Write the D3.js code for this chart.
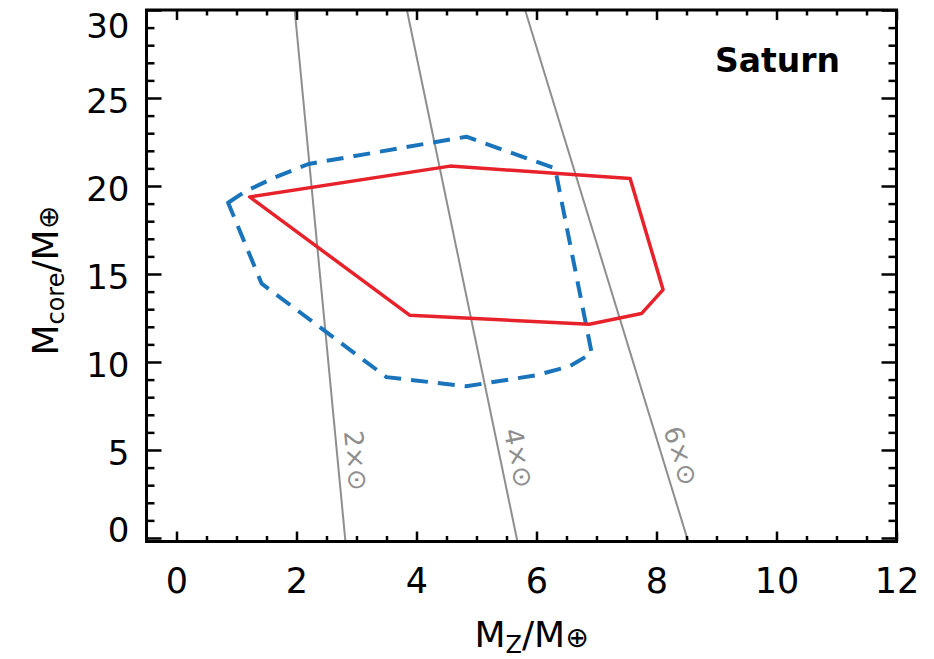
<!DOCTYPE html>
<html>
<head>
<meta charset="utf-8">
<script src="https://cdn.jsdelivr.net/npm/d3@7"></script>
<style>
  body { margin: 0; background: #fff; }
  text { font-family: "DejaVu Sans", sans-serif; }
</style>
</head>
<body>
<div id="chart"></div>
<script>
// axis ticks
var xTicks = [0, 2, 4, 6, 8, 10, 12]
var yTicks = [0, 5, 10, 15, 20, 25, 30]

// red (solid) region
var redX = [1.22, 4.56, 7.56, 8.11, 7.75, 6.88, 3.89]
var redY = [19.38, 21.13, 20.43, 14.11, 12.75, 12.14, 12.65]

// blue (dashed) region
var blueX = [0.86, 1.15, 1.65, 2.2, 4.83, 6.31, 6.92, 6.55, 6.0, 4.83, 3.5, 1.42]
var blueY = [19.05, 19.7, 20.5, 21.25, 22.8, 21.0, 10.5, 9.75, 9.25, 8.62, 9.14, 14.45]

// grey lines of constant enrichment: x at Mcore = 0 and at Mcore = 30
var metalLabels = ["2×⊙", "4×⊙", "6×⊙"]
var metalXAt0 = [2.81, 5.67, 8.51]
var metalXAt30 = [1.97, 3.84, 5.81]
var metalLabelY = 6.0 // where the label starts along each line

var width = 934
var height = 659
// plot frame (window.top etc. are reserved, so prefixed names)
var pLeft = 146.5, pRight = 896.5, pTop = 10, pBottom = 541.5

var x = d3.scaleLinear().domain([-0.5, 12]).range([pLeft, pRight])
var y = d3.scaleLinear().domain([-0.2, 30]).range([pBottom, pTop])

var svg = d3.select("#chart")
  .append("svg")
  .attr("width", width)
  .attr("height", height)

// grey lines
var yMin = y.domain()[0], yMax = y.domain()[1]
metalLabels.forEach(function (lab, i) {
  var slope = (metalXAt30[i] - metalXAt0[i]) / 30
  var xAt = function (v) { return metalXAt0[i] + slope * v }
  var x0 = x(xAt(yMax)), y0 = y(yMax)
  var x1 = x(xAt(yMin)), y1 = y(yMin)
  svg.append("line")
    .attr("x1", x0).attr("y1", y0)
    .attr("x2", x1).attr("y2", y1)
    .attr("stroke", "#8e8e8e")
    .attr("stroke-width", 2)
  var ang = Math.atan2(y1 - y0, x1 - x0) * 180 / Math.PI
  var lx = x(xAt(metalLabelY)), ly = y(metalLabelY)
  svg.append("text")
    .attr("transform", "translate(" + lx + "," + ly + ") rotate(" + ang + ")")
    .attr("dy", -9)
    .attr("fill", "#8e8e8e")
    .style("font-size", "26px")
    .text(lab)
})

var line = d3.line()
  .x(function (d) { return x(d[0]) })
  .y(function (d) { return y(d[1]) })
  .curve(d3.curveLinearClosed)

svg.append("path")
  .attr("d", line(blueX.map(function (v, i) { return [v, blueY[i]] })))
  .attr("fill", "none")
  .attr("stroke", "#1a74bb")
  .attr("stroke-width", 4)
  .attr("stroke-dasharray", "17,10")
  .attr("stroke-linejoin", "round")

svg.append("path")
  .attr("d", line(redX.map(function (v, i) { return [v, redY[i]] })))
  .attr("fill", "none")
  .attr("stroke", "#e8222b")
  .attr("stroke-width", 3.5)
  .attr("stroke-linejoin", "round")

// axes - major and minor ticks on all four sides, pointing in
var xMinor = d3.range(0.5, 12, 0.5).filter(function (v) { return v % 2 != 0 })
var yMinor = d3.range(1, 30, 1).filter(function (v) { return v % 5 != 0 })

function styleAxis(g) {
  g.select(".domain").remove()
  g.selectAll(".tick line").attr("stroke", "#000").attr("stroke-width", 2.5)
}

svg.append("g").attr("transform", "translate(0," + pBottom + ")")
  .call(d3.axisBottom(x).tickValues(xMinor).tickSize(-5.5).tickFormat(""))
  .call(styleAxis)
svg.append("g").attr("transform", "translate(0," + pBottom + ")")
  .call(d3.axisBottom(x).tickValues(xTicks).tickSize(-10).tickPadding(27).tickFormat(d3.format("d")))
  .call(styleAxis)
  .selectAll("text").style("font-size", "35px").attr("fill", "#000")

svg.append("g").attr("transform", "translate(0," + pTop + ")")
  .call(d3.axisTop(x).tickValues(xMinor).tickSize(-5.5).tickFormat(""))
  .call(styleAxis)
svg.append("g").attr("transform", "translate(0," + pTop + ")")
  .call(d3.axisTop(x).tickValues(xTicks).tickSize(-10).tickFormat(""))
  .call(styleAxis)

svg.append("g").attr("transform", "translate(" + pLeft + ",0)")
  .call(d3.axisLeft(y).tickValues(yMinor).tickSize(-8).tickFormat(""))
  .call(styleAxis)
var yAxis = svg.append("g").attr("transform", "translate(" + pLeft + ",0)")
  .call(d3.axisLeft(y).tickValues(yTicks).tickSize(-15).tickPadding(17).tickFormat(d3.format("d")))
  .call(styleAxis)
yAxis.selectAll("text").style("font-size", "34px").attr("fill", "#000")
// end labels are pulled inside the frame, as in the original figure
yAxis.selectAll(".tick text")
  .attr("dy", function (d) { return d == 30 ? "0.8em" : d == 0 ? "0.1em" : "0.42em" })

svg.append("g").attr("transform", "translate(" + pRight + ",0)")
  .call(d3.axisRight(y).tickValues(yMinor).tickSize(-8).tickFormat(""))
  .call(styleAxis)
svg.append("g").attr("transform", "translate(" + pRight + ",0)")
  .call(d3.axisRight(y).tickValues(yTicks).tickSize(-15).tickFormat(""))
  .call(styleAxis)

// frame
svg.append("rect")
  .attr("x", pLeft).attr("y", pTop)
  .attr("width", pRight - pLeft).attr("height", pBottom - pTop)
  .attr("fill", "none")
  .attr("stroke", "#000")
  .attr("stroke-width", 3)

// planet name
svg.append("text")
  .attr("x", 840).attr("y", 72)
  .attr("text-anchor", "end")
  .style("font-size", "33px")
  .style("font-weight", "bold")
  .text("Saturn")

// axis titles
var xt = svg.append("text")
  .attr("x", (pLeft + pRight) / 2 + 10).attr("y", 647)
  .attr("text-anchor", "middle")
  .style("font-size", "36px")
xt.append("tspan").text("M")
xt.append("tspan").attr("dy", 6).style("font-size", "24px").text("Z")
xt.append("tspan").attr("dy", -6).text("/M")
xt.append("tspan").style("font-size", "28px").text("⊕")

var yt = svg.append("text")
  .attr("transform", "translate(58," + ((pTop + pBottom) / 2 + 5) + ") rotate(-90)")
  .attr("text-anchor", "middle")
  .style("font-size", "36px")
yt.append("tspan").text("M")
yt.append("tspan").attr("dy", 6).style("font-size", "24px").text("core")
yt.append("tspan").attr("dy", -6).text("/M")
yt.append("tspan").style("font-size", "28px").text("⊕")
</script>
</body>
</html>
